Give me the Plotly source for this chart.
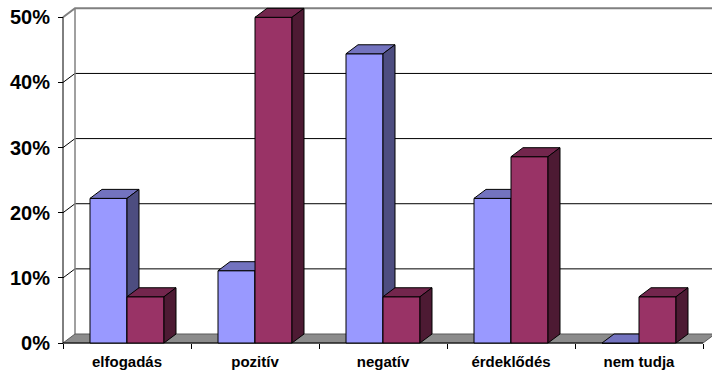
import plotly.graph_objects as go

# Survey answers (share of respondents, %)
categories = ["elfogadás", "pozitív", "negatív", "érdeklődés", "nem tudja"]
series_a = [22.2, 11.1, 44.4, 22.2, 0.0]
series_b = [7.1, 50.0, 7.1, 28.6, 7.1]
y_ticks = [0, 10, 20, 30, 40, 50]
y_tick_labels = ["0%", "10%", "20%", "30%", "40%", "50%"]

# colours: front, top, side
colors_a = ("#9999FF", "#7373BF", "#4D4D80")
colors_b = ("#993366", "#73264D", "#4D1A33")

# page / scale setup (pixels)
W, H = 712, 376
ML, MR, MT, MB = 50, 0, 0, 20
AXIS_X_PX, AXIS_Y_PX = 63, 343        # front corner of the 3D box
CAT_PX, PCT_PX = 128, 6.514           # pixels per category / per percent
DEPTH_X_PX, DEPTH_Y_PX = 12, 9         # oblique depth offset
BAR_PX = 37

plot_w = W - ML - MR
plot_h = H - MT - MB
x_lo = (ML - AXIS_X_PX) / CAT_PX
x_hi = (W - MR - AXIS_X_PX) / CAT_PX
y_lo = -(H - MB - AXIS_Y_PX) / PCT_PX
y_hi = (AXIS_Y_PX - MT) / PCT_PX
DX = DEPTH_X_PX / CAT_PX
DY = DEPTH_Y_PX / PCT_PX
BW = BAR_PX / CAT_PX
N = len(categories)
TOP = y_ticks[-1]

fig = go.Figure()


def poly(xs, ys, fill, line="black", width=1):
    fig.add_trace(go.Scatter(
        x=list(xs) + [xs[0]], y=list(ys) + [ys[0]], mode="lines",
        fill="toself", fillcolor=fill, line=dict(color=line, width=width),
        hoverinfo="skip", showlegend=False))


def seg(xs, ys, color, width=1):
    fig.add_trace(go.Scatter(
        x=xs, y=ys, mode="lines", line=dict(color=color, width=width),
        hoverinfo="skip", showlegend=False))


# back wall: gridlines and their diagonals across the side wall
for v in y_ticks[1:-1]:
    seg([0, DX, N + DX + 1], [v, v + DY, v + DY], "black")
seg([0, DX, N + DX + 1], [TOP, TOP + DY, TOP + DY], "#808080", 2)
seg([DX, DX], [DY, TOP + DY], "#808080", 1.5)

# floor
poly([0, N, N + DX, DX], [0, 0, DY, DY], "#8C8C8C", "#5A5A5A")

# front axes
seg([0, 0], [0, TOP], "black")
seg([0, N], [0, 0], "black")


def bar(x0, v, cols):
    x1 = x0 + BW
    poly([x0, x1, x1, x0], [0, 0, v, v], cols[0])
    poly([x0, x1, x1 + DX, x0 + DX], [v, v, v + DY, v + DY], cols[1])
    poly([x1, x1 + DX, x1 + DX, x1], [0, DY, v + DY, v], cols[2])


for i in range(N):
    c = i + 0.5
    bar(c - BW, series_a[i], colors_a)
    bar(c, series_b[i], colors_b)

fig.update_layout(
    width=W, height=H,
    margin=dict(l=ML, r=MR, t=MT, b=MB),
    paper_bgcolor="white", plot_bgcolor="white",
    showlegend=False,
    xaxis=dict(
        range=[x_lo, x_hi], showgrid=False, zeroline=False, showline=False,
        tickvals=[i + 0.5 for i in range(N)], ticktext=categories,
        ticks="", ticklabelstandoff=8,
        tickfont=dict(family="Arial", size=15, color="black", weight="bold"),
        minor=dict(tickvals=list(range(N + 1)), ticks="outside", ticklen=5,
                   tickcolor="black", tickwidth=1, showgrid=False),
        anchor="free", position=(H - MB - AXIS_Y_PX) / plot_h,
        fixedrange=True,
    ),
    yaxis=dict(
        range=[y_lo, y_hi], showgrid=False, zeroline=False, showline=False,
        tickvals=y_ticks, ticktext=y_tick_labels,
        ticks="outside", ticklen=5, tickcolor="black", tickwidth=1,
        ticklabelstandoff=4,
        tickfont=dict(family="Arial", size=20, color="black", weight="bold"),
        anchor="free", position=(AXIS_X_PX - ML) / plot_w,
        fixedrange=True,
    ),
)

fig.write_html("out.html")
